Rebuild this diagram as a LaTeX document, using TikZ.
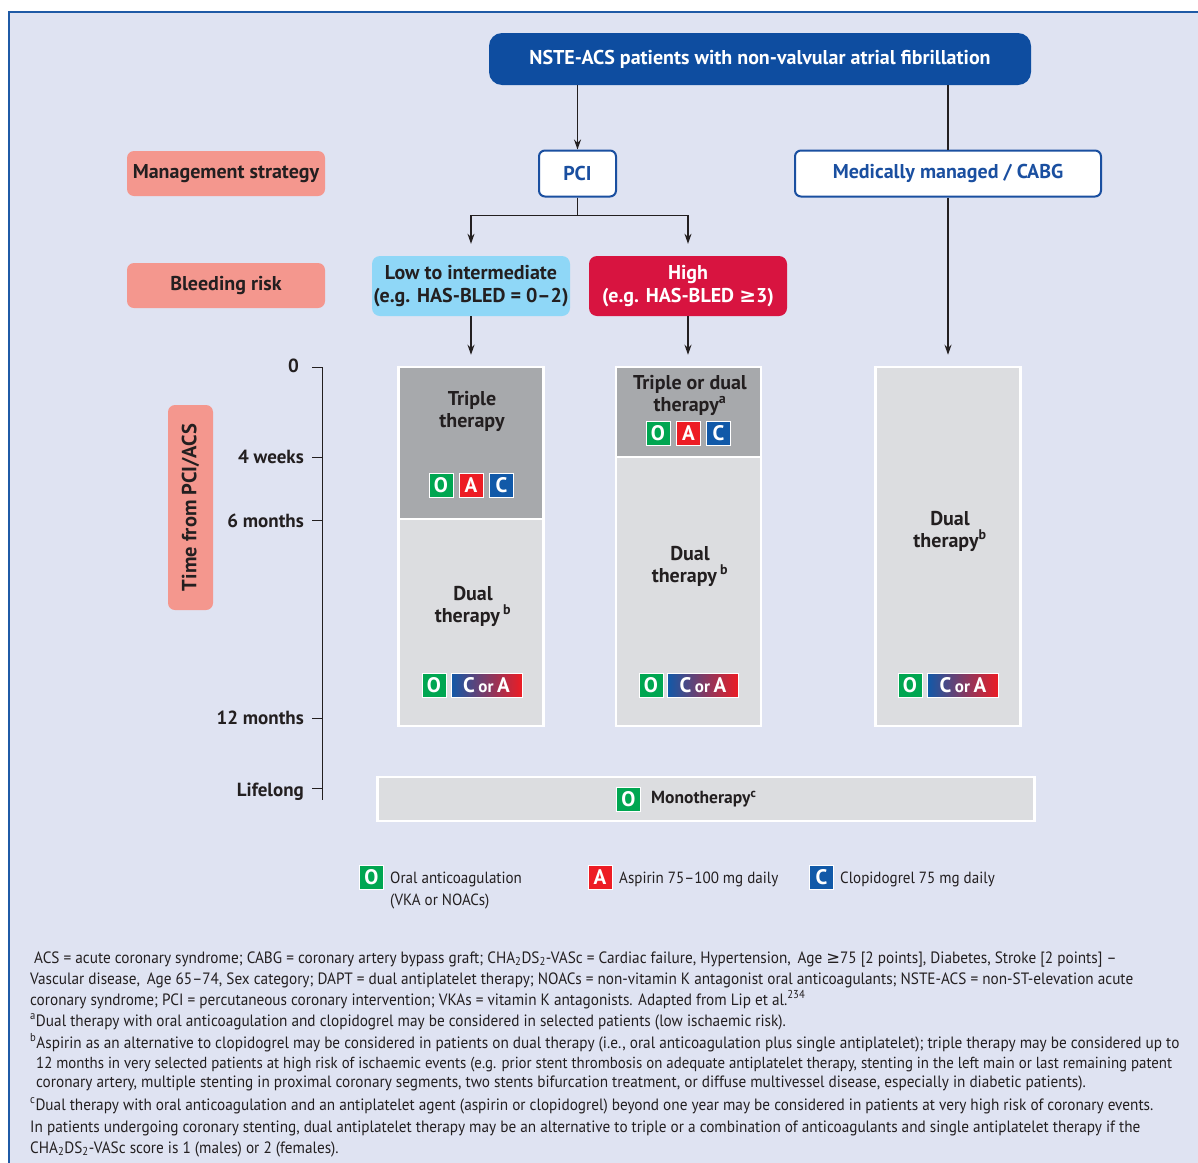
\documentclass[tikz,border=0pt]{standalone}
\usepackage{fontspec}
\setmainfont{PT Sans}
\newfontfamily\fnfont[FakeStretch=0.93]{PT Sans}
\newfontfamily\hdfont{PT Sans}
\newfontfamily\symfont{DejaVu Sans}
\newcommand{\geqs}{{\symfont\mdseries ≥}}
\newcommand{\geqb}{{\symfont\bfseries ≥}}
\usetikzlibrary{arrows.meta}
\definecolor{bg}{HTML}{DFE3F2}
\definecolor{framec}{HTML}{1F5AA6}
\definecolor{titleb}{HTML}{0E4DA0}
\definecolor{pcib}{HTML}{1A4FA0}
\definecolor{salmon}{HTML}{F4978E}
\definecolor{lowb}{HTML}{8FD7F7}
\definecolor{highb}{HTML}{D81440}
\definecolor{darkg}{HTML}{A7A9AC}
\definecolor{lightg}{HTML}{DCDDE0}
\definecolor{txt}{HTML}{231F20}
\definecolor{og}{HTML}{00A651}
\definecolor{ar}{HTML}{ED1C24}
\definecolor{cb}{HTML}{1159A8}
\definecolor{arrowc}{HTML}{231F20}
\tikzset{
  arr/.style={draw=arrowc, line width=1.2pt, -{Stealth[length=10pt,width=7pt]}},
  ln/.style={draw=arrowc, line width=1.2pt},
  hd/.style={font=\hdfont\bfseries\fontsize{20}{23}\selectfont},
  lab/.style={fill=salmon, rounded corners=7pt, minimum width=198pt, minimum height=45pt, inner sep=0pt, hd, text=txt},
  outl/.style={draw=pcib, line width=2pt, fill=white, rounded corners=6pt, minimum height=46pt, inner sep=0pt, hd, text=pcib},
  risk/.style={rounded corners=8pt, minimum width=198pt, minimum height=60pt, inner sep=0pt, align=center, hd},
  colbox/.style={draw=white, line width=2.5pt, minimum width=145pt, inner sep=0pt},
  ctext/.style={align=center, text=txt, font=\hdfont\bfseries\fontsize{20}{22}\selectfont},
  badge/.style={draw=white, line width=1pt, minimum width=24pt, minimum height=24pt, inner sep=0pt, text=white, font=\bfseries\fontsize{21}{21}\selectfont},
  gbadge/.style={badge, minimum width=71pt, left color=cb, right color=ar},
  axlab/.style={anchor=east, text=txt, font=\hdfont\bfseries\fontsize{19}{21}\selectfont, inner sep=0pt},
  leg/.style={anchor=base west, text=txt, inner sep=0pt, font=\fnfont\fontsize{16.2}{18}\selectfont},
  fn/.style={anchor=base west, text=txt, inner sep=0pt, font=\fnfont\fontsize{16.4}{18}\selectfont},
}
\newcommand{\CorA}{C\,{\fontsize{17}{17}\selectfont or}\,A}
\begin{document}
\begin{tikzpicture}[x=1pt,y=-1pt]
\useasboundingbox (0,0) rectangle (1198,1162);
\fill[white] (0,0) rectangle (1198,1162);
\fill[bg] (9,12) rectangle (1205,1170);
\draw[framec, line width=2pt] (9,1170) -- (9,12) -- (1205,12);

% top level
\node[fill=titleb, rounded corners=13pt, minimum width=542pt, minimum height=52pt, inner sep=0pt, hd, text=white] (top) at (760,59) {NSTE-ACS patients with non-valvular atrial fibrillation};
\node[outl, minimum width=77pt] (pci) at (577.5,173.5) {PCI};
\node[outl, minimum width=306pt] (med) at (948,173.5) {Medically managed / CABG};
\node[lab] (mgmt) at (226,173.5) {Management strategy};
\node[lab] (bleed) at (226,285.5) {Bleeding risk};
\node[risk, fill=lowb, text=txt] (low) at (471,286) {Low to intermediate\\(e.g. HAS-BLED = 0–2)};
\node[risk, fill=highb, text=white] (high) at (688,286) {High\\(e.g. HAS-BLED \geqb3)};

% columns
\node[colbox, fill=darkg, minimum height=152pt] (c1t) at (471,443) {};
\node[colbox, fill=lightg, minimum height=207pt] (c1b) at (471,622.5) {};
\node[colbox, fill=darkg, minimum height=90pt] (c2t) at (688.5,412) {};
\node[colbox, fill=lightg, minimum height=269pt] (c2b) at (688.5,591.5) {};
\node[colbox, fill=lightg, minimum height=359pt] (c3) at (948,546.5) {};
\node[colbox, fill=lightg, minimum width=657pt, minimum height=44pt] (mono) at (706,799) {};

% connectors
\draw[arr] (top.south -| pci.north) -- (pci.north);
\draw[ln] (top.south -| med.north) -- (med.north);
\draw[arr, shorten >=12pt] (pci.south) -- ++(0,18) -| (low.north);
\draw[arr, shorten >=12pt] (pci.south) -- ++(0,18) -| (high.north);
\draw[arr, shorten >=11pt] (low.south) -- (low.south |- c1t.north);
\draw[arr, shorten >=11pt] (high.south) -- (high.south |- c2t.north);
\draw[arr, shorten >=11pt] (med.south) -- (c3.north);

% column texts
\node[ctext] (t1) at (472,411) {Triple\\therapy};
\node[badge, fill=og] (o1) at (441,485) {O};
\node[badge, fill=ar] (a1) at (471,485) {A};
\node[badge, fill=cb] (cc1) at (501.5,485) {C};
\node[ctext] (d1) at (473,606) {Dual\\therapy\,\textsuperscript{b}};
\node[badge, fill=og] (o1b) at (434,685.5) {O};
\node[gbadge] (g1) at (486.5,685.5) {\CorA};

\node[ctext] (t2) at (690,395) {Triple or dual\\therapy\textsuperscript{a}};
\node[badge, fill=og] (o2) at (658,433) {O};
\node[badge, fill=ar] (a2) at (688.5,433) {A};
\node[badge, fill=cb] (cc2) at (718.5,433) {C};
\node[ctext] (d2) at (690,566) {Dual\\therapy\,\textsuperscript{b}};
\node[badge, fill=og] (o2b) at (651,685.5) {O};
\node[gbadge] (g2) at (703,685.5) {\CorA};

\node[ctext] (d3) at (950,531) {Dual\\therapy\textsuperscript{b}};
\node[badge, fill=og] (o3) at (910,685.5) {O};
\node[gbadge] (g3) at (963,685.5) {\CorA};

\node[badge, fill=og] (om) at (628.5,799) {O};
\node[anchor=west, inner sep=0pt, text=txt, font=\hdfont\bfseries\fontsize{17.5}{19}\selectfont] (mt) at (651,799) {Monotherapy\textsuperscript{c}};

% axis
\draw[ln, line width=1pt] (312,367) -- (322,367) -- (322,800);
\foreach \yy in {457,520,718,788} \draw[ln, line width=1pt] (312,\yy) -- (322,\yy);
\node[axlab] (l0) at (299,366) {0};
\node[axlab] (l4) at (304,457) {4 weeks};
\node[axlab] (l6) at (304,521) {6 months};
\node[axlab] (l12) at (304,718) {12 months};
\node[axlab] (ll) at (304,792) {Lifelong};
\node[fill=salmon, rounded corners=7pt, minimum width=205pt, minimum height=45pt, inner sep=0pt, rotate=90, text=txt, font=\hdfont\bfseries\fontsize{20.5}{22}\selectfont] (time) at (190.5,507.5) {Time from PCI/ACS};

% legend
\node[badge, fill=og] (lo) at (371.5,877.5) {O};
\node[leg] (lot1) at (390,883) {Oral anticoagulation};
\node[leg] (lot2) at (390,905) {(VKA or NOACs)};
\node[badge, fill=ar] (la) at (600,877.5) {A};
\node[leg] (lat) at (619,883) {Aspirin 75–100 mg daily};
\node[badge, fill=cb] (lc) at (821.5,877.5) {C};
\node[leg] (lct) at (840,883) {Clopidogrel 75 mg daily};

% footnotes
\node[fn] (f1) at (34,963) {ACS = acute coronary syndrome; CABG = coronary artery bypass graft; CHA\textsubscript{2}DS\textsubscript{2}-VASc = Cardiac failure, Hypertension,\, Age \geqs75 [2 points], Diabetes, Stroke [2 points] –};
\node[fn] (f2) at (30,984) {Vascular disease,\, Age 65–74, Sex category; DAPT = dual antiplatelet therapy; NOACs = non-vitamin K antagonist oral anticoagulants; NSTE-ACS = non-ST-elevation acute};
\node[fn] (f3) at (30,1005) {coronary syndrome; PCI = percutaneous coronary intervention; VKAs = vitamin K antagonists. Adapted from Lip et al.\textsuperscript{234}};
\node[fn] (f4) at (30,1026) {\textsuperscript{a}Dual therapy with oral anticoagulation and clopidogrel may be considered in selected patients (low ischaemic risk).};
\node[fn] (f5) at (30,1048) {\textsuperscript{b}Aspirin as an alternative to clopidogrel may be considered in patients on dual therapy (i.e., oral anticoagulation plus single antiplatelet); triple therapy may be considered up to};
\node[fn, font=\fnfont\fontsize{16}{18}\selectfont] (f6) at (36,1068) {12 months in very selected patients at high risk of ischaemic events (e.g. prior stent thrombosis on adequate antiplatelet therapy, stenting in the left main or last remaining patent};
\node[fn] (f7) at (36,1087) {coronary artery, multiple stenting in proximal coronary segments, two stents bifurcation treatment, or diffuse multivessel disease, especially in diabetic patients).};
\node[fn] (f8) at (30,1110) {\textsuperscript{c}Dual therapy with oral anticoagulation and an antiplatelet agent (aspirin or clopidogrel) beyond one year may be considered in patients at very high risk of coronary events.};
\node[fn] (f9) at (30,1132) {In patients undergoing coronary stenting, dual antiplatelet therapy may be an alternative to triple or a combination of anticoagulants and single antiplatelet therapy if the};
\node[fn] (f10) at (30,1153) {CHA\textsubscript{2}DS\textsubscript{2}-VASc score is 1 (males) or 2 (females).};
\end{tikzpicture}
\end{document}
